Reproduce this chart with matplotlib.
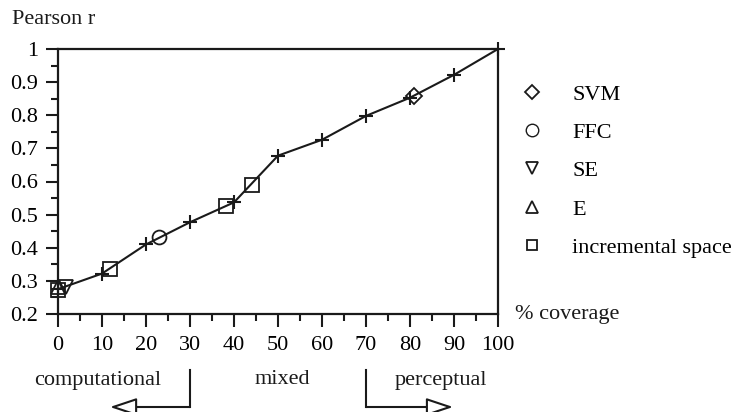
import matplotlib
matplotlib.use("Agg")
import matplotlib.pyplot as plt
from matplotlib.lines import Line2D
from matplotlib.ticker import MultipleLocator

plt.rcParams['font.family'] = ['Liberation Serif', 'DejaVu Serif']

# main curve
cov = [0, 10, 20, 30, 40, 50, 60, 70, 80, 90, 100]
r_vals = [0.275, 0.322, 0.41, 0.477, 0.537, 0.678, 0.726, 0.798, 0.853, 0.922, 1.0]

# individual methods
svm_x, svm_y = [81], [0.859]
ffc_x, ffc_y = [23], [0.433]
se_x, se_y = [1.8], [0.283]
e_x, e_y = [0], [0.281]
inc_x = [0, 11.8, 38.2, 44]
inc_y = [0.273, 0.337, 0.527, 0.588]

xticks = [0, 10, 20, 30, 40, 50, 60, 70, 80, 90, 100]
yticks = [0.2, 0.3, 0.4, 0.5, 0.6, 0.7, 0.8, 0.9, 1.0]
ytick_labels = ['0.2', '0.3', '0.4', '0.5', '0.6', '0.7', '0.8', '0.9', '1']
legend_labels = ['SVM', 'FFC', 'SE', 'E', 'incremental space']
region_labels = ['computational', 'mixed', 'perceptual']
region_bounds = [30, 70]

W, H = 738, 412
fig = plt.figure(figsize=(W / 100, H / 100), dpi=100)
ax = fig.add_axes([58 / W, 1 - 314 / H, 440 / W, 265 / H])

col = '#1a1a1a'
fs = 16
ax.plot(cov, r_vals, color=col, lw=1.5, marker='+', ms=10, mew=1.5, zorder=3, clip_on=False)
mk = dict(color=col, ls='none', mfc='none', mew=1.3, clip_on=False, zorder=4)
ax.plot(svm_x, svm_y, marker='D', ms=8.5, **mk)
ax.plot(ffc_x, ffc_y, marker='o', ms=10, **mk)
ax.plot(se_x, se_y, marker='v', ms=10, **mk)
ax.plot(e_x, e_y, marker='^', ms=10, **mk)
ax.plot(inc_x, inc_y, marker='s', ms=9.5, **mk)

ax.set_xlim(0, 100)
ax.set_ylim(0.2, 1.0)
ax.set_xticks(xticks)
ax.set_xticklabels([str(t) for t in xticks])
ax.set_yticks(yticks)
ax.set_yticklabels(ytick_labels)
ax.xaxis.set_minor_locator(MultipleLocator(5))
ax.yaxis.set_minor_locator(MultipleLocator(0.05))
ax.tick_params(which='major', direction='out', length=9, width=1.5, labelsize=fs, pad=5.5, color=col)
ax.tick_params(which='minor', direction='out', length=5, width=1.5, color=col)
ax.tick_params(axis='x', which='major', pad=6.5)
for s in ax.spines.values():
    s.set_linewidth(1.6)
    s.set_color(col)

# legend
handles = [
    Line2D([], [], marker='D', ms=7, color=col, ls='none', mfc='none', mew=1.3),
    Line2D([], [], marker='o', ms=9, color=col, ls='none', mfc='none', mew=1.0),
    Line2D([], [], marker='v', ms=8, color=col, ls='none', mfc='none', mew=1.3),
    Line2D([], [], marker='^', ms=8, color=col, ls='none', mfc='none', mew=1.3),
    Line2D([], [], marker='s', ms=7, color=col, ls='none', mfc='none', mew=1.3),
]
fig.legend(handles, legend_labels, loc='upper left',
           bbox_to_anchor=(521 / W, 1 - 84 / H), frameon=False, fontsize=fs,
           handlelength=1.0, handletextpad=1.3, labelspacing=0.8,
           borderpad=0, borderaxespad=0)

fig.text(12 / W, 1 - 20 / H, 'Pearson r', fontsize=fs, ha='left', va='center', color=col)
fig.text(515 / W, 1 - 315 / H, '% coverage', fontsize=fs, ha='left', va='center', color=col)

# region labels and arrows under the axis
tr = ax.get_xaxis_transform()
ylab = -(380 - 314) / 265
ax.text(9, ylab, region_labels[0], transform=tr, ha='center', va='center', fontsize=fs, color=col)
ax.text(51, ylab, region_labels[1], transform=tr, ha='center', va='center', fontsize=fs, color=col)
ax.text(87, ylab, region_labels[2], transform=tr, ha='center', va='center', fontsize=fs, color=col)

y_top = -(370 - 314) / 265
y_arr = -(407 - 314) / 265
ax.plot([region_bounds[0], region_bounds[0]], [y_top, y_arr], transform=tr, color=col, lw=1.5, clip_on=False)
ax.plot([region_bounds[1], region_bounds[1]], [y_top, y_arr], transform=tr, color=col, lw=1.5, clip_on=False)
astyle = '-|>,head_length=1.65,head_width=0.55'
ax.annotate('', xy=(11.8, y_arr), xycoords=tr, xytext=(region_bounds[0], y_arr), textcoords=tr,
            arrowprops=dict(arrowstyle=astyle, fc='white', ec=col, lw=1.5,
                            shrinkA=0, shrinkB=0, mutation_scale=10))
ax.annotate('', xy=(89.8, y_arr), xycoords=tr, xytext=(region_bounds[1], y_arr), textcoords=tr,
            arrowprops=dict(arrowstyle=astyle, fc='white', ec=col, lw=1.5,
                            shrinkA=0, shrinkB=0, mutation_scale=10))

fig.savefig('out.png', dpi=100)
